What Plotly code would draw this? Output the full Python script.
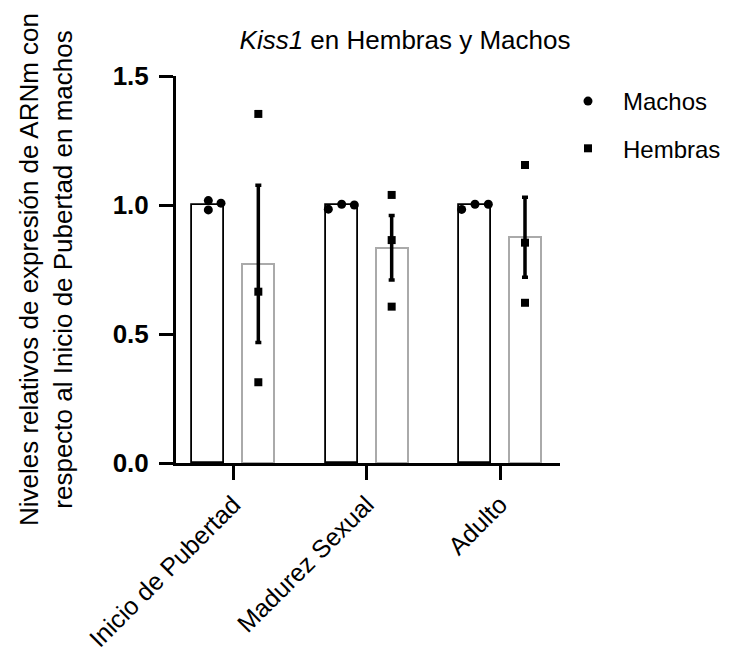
import plotly.graph_objects as go

# ---- data ----
categories = ["Inicio de Pubertad", "Madurez Sexual", "Adulto"]
machos_mean = [1.0, 1.0, 1.0]
hembras_mean = [0.772, 0.834, 0.875]
hembras_sem = [0.305, 0.125, 0.155]
machos_points = [[1.017, 0.981, 1.007], [0.984, 1.003, 1.000], [0.983, 1.003, 1.003]]
hembras_points = [[1.353, 0.664, 0.313], [1.039, 0.864, 0.606], [1.155, 0.854, 0.621]]
y_ticks = [0.0, 0.5, 1.0, 1.5]

# ---- layout constants ----
W, H = 739, 655
ML, MR, MT, MB = 176, 179, 76, 192
PW, PH = W - ML - MR, H - MT - MB
group_pos = list(range(len(categories)))
bar_offset = 0.1875
bar_width = 0.24
machos_jitter = [[0.0, 0.0, 0.095], [-0.1, 0.0, 0.095], [-0.1, 0.0, 0.1]]
FONT = "Arial, Liberation Sans, sans-serif"

fig = go.Figure()

fig.add_trace(go.Bar(
    x=[p - bar_offset for p in group_pos], y=machos_mean, width=bar_width,
    marker=dict(color="white", line=dict(color="black", width=1.8)),
    showlegend=False, hoverinfo="skip"))

fig.add_trace(go.Bar(
    x=[p + bar_offset for p in group_pos], y=hembras_mean, width=bar_width,
    marker=dict(color="white", line=dict(color="#aaaaaa", width=2)),
    error_y=dict(type="data", array=hembras_sem, color="black", thickness=3.5, width=3),
    showlegend=False, hoverinfo="skip"))

mx, my = [], []
for p, vals, jit in zip(group_pos, machos_points, machos_jitter):
    for v, j in zip(vals, jit):
        mx.append(p - bar_offset + j)
        my.append(v)
hx, hy = [], []
for p, vals in zip(group_pos, hembras_points):
    for v in vals:
        hx.append(p + bar_offset)
        hy.append(v)

fig.add_trace(go.Scatter(
    x=mx, y=my, mode="markers", name="Machos", legendgroup="m",
    marker=dict(symbol="circle", size=9, color="black"), cliponaxis=False))
fig.add_trace(go.Scatter(
    x=hx, y=hy, mode="markers", name="Hembras", legendgroup="h",
    marker=dict(symbol="square", size=8, color="black"), cliponaxis=False))

fig.update_layout(
    width=W, height=H,
    margin=dict(l=ML, r=MR, t=MT, b=MB),
    paper_bgcolor="white", plot_bgcolor="white",
    font=dict(family=FONT, size=26, color="black"),
    title=dict(text="<i>Kiss1</i> en Hembras y Machos", xref="container", yref="container",
               x=405 / W, xanchor="center", y=1 - 40 / H, yanchor="middle",
               font=dict(family=FONT, size=26, color="black")),
    legend=dict(xref="paper", yref="paper", x=(553 - ML) / PW, xanchor="left",
                y=(H - MB - 79) / PH, yanchor="top", font=dict(family=FONT, size=24),
                itemwidth=60, tracegroupgap=13, bgcolor="rgba(0,0,0,0)"),
    bargap=0,
)

fig.update_xaxes(
    range=[-0.43, 2.45], tickmode="array", tickvals=group_pos, ticktext=categories,
    tickangle=-45, ticks="outside", ticklen=14, tickwidth=3, tickcolor="black",
    showline=True, linewidth=3, linecolor="black", showgrid=False, zeroline=False,
    automargin=False, tickfont=dict(family=FONT, size=25, color="black"))

fig.update_yaxes(
    range=[0, 1.5], tickmode="array", tickvals=y_ticks,
    ticktext=[f"<b>{t:.1f}</b>" for t in y_ticks],
    ticks="outside", ticklen=14, tickwidth=3, tickcolor="black",
    showline=True, linewidth=3, linecolor="black", showgrid=False, zeroline=False,
    automargin=False, ticklabelstandoff=5, tickfont=dict(family=FONT, size=26, color="black"),
    title=dict(text="Niveles relativos de expresión de ARNm con<br>respecto al Inicio de Pubertad en machos",
               font=dict(family=FONT, size=26, color="black"), standoff=33))

fig.write_html("out.html", config={"displayModeBar": False},
               post_script="document.body.style.margin='0';")
